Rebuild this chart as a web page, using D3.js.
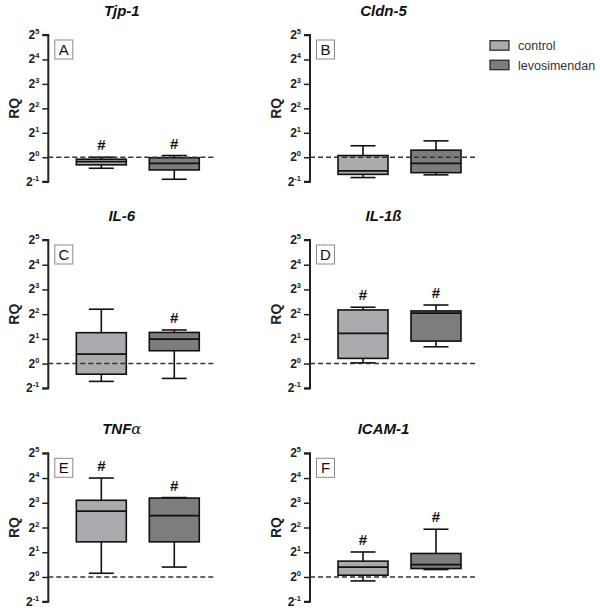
<!DOCTYPE html>
<html><head><meta charset="utf-8">
<script src="https://cdn.jsdelivr.net/npm/d3@7"></script>
<style>body{margin:0;background:#fff}svg{display:block}</style>
</head><body>
<script>
// ---- data (log2 RQ units) ----
const panelLetters = ["A","B","C","D","E","F"];
const geneNames = ["Tjp-1","Cldn-5","IL-6","IL-1ß","TNF","ICAM-1"];
const groups = ["control","levosimendan"];
// [min, q1, median, q3, max]
const controlBoxes = [
  [-0.45, -0.31, -0.18, -0.08, 0.0],
  [-0.83, -0.70, -0.56, 0.07, 0.47],
  [-0.72, -0.43, 0.38, 1.25, 2.20],
  [0.03, 0.21, 1.22, 2.17, 2.28],
  [0.15, 1.42, 2.66, 3.10, 4.00],
  [-0.16, 0.07, 0.40, 0.64, 1.01]
];
const levoBoxes = [
  [-0.90, -0.52, -0.25, -0.02, 0.07],
  [-0.72, -0.63, -0.25, 0.29, 0.67],
  [-0.60, 0.52, 0.99, 1.26, 1.36],
  [0.68, 0.91, 2.04, 2.13, 2.37],
  [0.40, 1.42, 2.48, 3.19, 3.21],
  [0.30, 0.34, 0.50, 0.95, 1.93]
];
const controlSig = [true, false, false, true, true, true];
const levoSig = [true, false, true, true, true, true];
const tickExponents = [-1, 0, 1, 2, 3, 4, 5];
const referenceLevel = 0;

// ---- layout ----
const W = 600, H = 611;
const rowTop = [35, 240, 453.3];
const rowBottom = [181.7, 388.3, 601.7];
const colAxisX = [48.3, 310];
const colors = {control: "#ababaf", levosimendan: "#7d7d7d"};

const svg = d3.select("body").append("svg").attr("width", W).attr("height", H);

panelLetters.forEach((letter, i) => {
  const row = Math.floor(i / 2), col = i % 2;
  const ax = colAxisX[col];
  const y = d3.scaleLinear().domain([-1, 5]).range([rowBottom[row], rowTop[row]]);
  const x = d3.scaleBand().domain(groups).range([ax, ax + 179]).paddingInner(0.315).paddingOuter(0.384);
  const g = svg.append("g");

  // title
  const t = g.append("text").attr("x", ax + 73.5).attr("y", rowTop[row] - 19)
    .attr("text-anchor", "middle").attr("font-family", "Arial, Liberation Sans, sans-serif")
    .attr("font-size", 15).attr("font-weight", "bold").attr("font-style", "italic")
    .attr("fill", "#111").text(geneNames[i]);
  if (geneNames[i] === "TNF") t.append("tspan").attr("font-weight", "normal").attr("font-family", "DejaVu Serif, serif").text("α");

  // y axis
  const axis = d3.axisLeft(y).tickValues(tickExponents).tickSize(6).tickFormat("");
  const ag = g.append("g").attr("transform", `translate(${ax},0)`).call(axis);
  ag.select(".domain").attr("stroke", "#222").attr("stroke-width", 2).attr("d", `M-6,${y(5)}H0V${y(-1)}H-6`);
  ag.selectAll(".tick line").attr("stroke", "#222").attr("stroke-width", 1.5);
  tickExponents.forEach(e => {
    const tx = g.append("text").attr("x", ax - 9).attr("y", y(e) + 4)
      .attr("text-anchor", "end").attr("font-family", "Arial, Liberation Sans, sans-serif")
      .attr("font-size", 12).attr("font-weight", "bold").attr("fill", "#222");
    tx.append("tspan").text("2");
    tx.append("tspan").attr("dy", -5).attr("font-size", 7.5).text(e);
  });

  // RQ label
  g.append("text").attr("transform", `translate(${ax - 29},${y(2)}) rotate(-90)`)
    .attr("text-anchor", "middle").attr("font-family", "Arial, Liberation Sans, sans-serif")
    .attr("font-size", 14).attr("font-weight", "bold").attr("fill", "#222").text("RQ");

  // panel letter box
  g.append("rect").attr("x", ax + 6.5).attr("y", rowTop[row] + 5).attr("width", 18).attr("height", 19)
    .attr("fill", "#fff").attr("stroke", "#8a8a8a").attr("stroke-width", 1);
  g.append("text").attr("x", ax + 15.5).attr("y", rowTop[row] + 20).attr("text-anchor", "middle")
    .attr("font-family", "Arial, Liberation Sans, sans-serif").attr("font-size", 15).attr("fill", "#111").text(letter);

  // boxes
  const boxData = [controlBoxes[i], levoBoxes[i]];
  const sigData = [controlSig[i], levoSig[i]];
  groups.forEach((grp, k) => {
    const [mn, q1, md, q3, mx] = boxData[k];
    const x0 = x(grp), bw = x.bandwidth(), cx = x0 + bw / 2, cw = bw / 4;
    g.append("line").attr("x1", cx).attr("x2", cx).attr("y1", y(mx)).attr("y2", y(q3)).attr("stroke", "#111").attr("stroke-width", 1.6);
    g.append("line").attr("x1", cx).attr("x2", cx).attr("y1", y(q1)).attr("y2", y(mn)).attr("stroke", "#111").attr("stroke-width", 1.6);
    g.append("line").attr("x1", cx - cw).attr("x2", cx + cw).attr("y1", y(mx)).attr("y2", y(mx)).attr("stroke", "#111").attr("stroke-width", 1.6);
    g.append("line").attr("x1", cx - cw).attr("x2", cx + cw).attr("y1", y(mn)).attr("y2", y(mn)).attr("stroke", "#111").attr("stroke-width", 1.6);
    g.append("rect").attr("x", x0).attr("y", y(q3)).attr("width", bw).attr("height", y(q1) - y(q3))
      .attr("fill", colors[grp]).attr("stroke", "#111").attr("stroke-width", 1.6);
    g.append("line").attr("x1", x0).attr("x2", x0 + bw).attr("y1", y(md)).attr("y2", y(md)).attr("stroke", "#111").attr("stroke-width", 1.8);
    if (sigData[k]) {
      g.append("text").attr("x", cx).attr("y", y(mx) - 7).attr("text-anchor", "middle")
        .attr("font-family", "Arial, Liberation Sans, sans-serif").attr("font-size", 15).attr("font-weight", "bold")
        .attr("fill", "#111").text("#");
    }
  });

  // reference dashed line at 2^0
  g.append("line").attr("x1", ax).attr("x2", ax + 165).attr("y1", y(referenceLevel)).attr("y2", y(referenceLevel))
    .attr("stroke", "#333").attr("stroke-width", 1.5).attr("stroke-dasharray", "5,3");
});

// legend
const legend = svg.append("g");
groups.forEach((grp, k) => {
  const ly = 40.7 + k * 19.5;
  legend.append("rect").attr("x", 490).attr("y", ly).attr("width", 19).attr("height", 9.5)
    .attr("fill", colors[grp]).attr("stroke", "#222").attr("stroke-width", 1.2);
  legend.append("text").attr("x", 518).attr("y", ly + 9.5).attr("font-family", "Arial, Liberation Sans, sans-serif")
    .attr("font-size", 12.5).attr("fill", "#333").text(grp);
});
</script>
</body></html>
